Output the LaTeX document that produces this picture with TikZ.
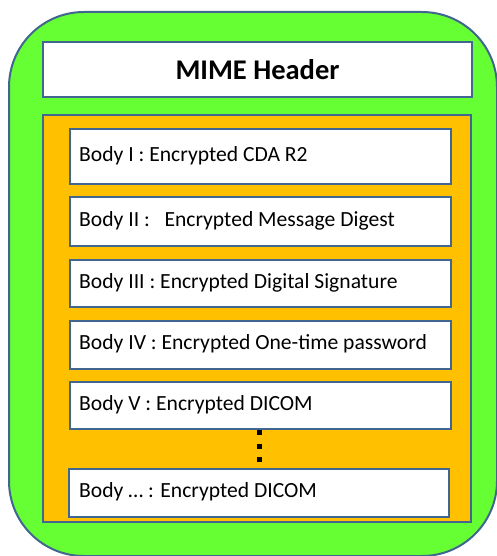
\documentclass[tikz,border=0pt]{standalone}
\usepackage{fontspec}
\setmainfont{Carlito}
\definecolor{lgreen}{HTML}{66FF33}
\definecolor{gold}{HTML}{FFC000}
\definecolor{edge}{HTML}{41668F}
\begin{document}
\begin{tikzpicture}[x=1pt,y=-1pt,
  outerbox/.style={draw=edge,line width=2pt,fill=lgreen,rounded corners=75pt},
  panel/.style={draw=edge,line width=2pt,fill=gold},
  bodybox/.style={draw=edge,line width=2pt,fill=white,inner sep=0pt},
  lbl/.style={anchor=west,font=\fontsize{21.6}{24}\selectfont,inner sep=0pt},
  dots/.style={line width=5pt,dash pattern=on 5pt off 8.5pt}]
\useasboundingbox (0,0) rectangle (496,556);
\draw[outerbox] (9,12) rectangle (497,556);
\node[bodybox,minimum width=429pt,minimum height=55pt,anchor=north west] (mime) at (42,41) {};
\node[font=\fontsize{28.5}{32}\selectfont\bfseries] (mimetxt) at (mime.center) {MIME Header};
\draw[panel] (43,115) rectangle (471,522);
\node[bodybox,minimum width=381pt,minimum height=55pt,anchor=north west] (b1) at (69,128) {};
\node[bodybox,minimum width=381pt,minimum height=49pt,anchor=north west] (b2) at (69,196) {};
\node[bodybox,minimum width=381pt,minimum height=47pt,anchor=north west] (b3) at (69,259) {};
\node[bodybox,minimum width=381pt,minimum height=48pt,anchor=north west] (b4) at (69,320) {};
\node[bodybox,minimum width=381pt,minimum height=47pt,anchor=north west] (b5) at (69,381) {};
\node[bodybox,minimum width=380pt,minimum height=48pt,anchor=north west] (bn) at (68,468) {};
\node[lbl] (t1) at (79,156) {Body I : Encrypted CDA R2};
\node[lbl] (t2) at (79,221) {Body II :\ \ \ Encrypted Message Digest};
\node[lbl] (t3) at (79,283) {Body III : Encrypted Digital Signature};
\node[lbl] (t4) at (79,344) {Body IV : Encrypted One-time password};
\node[lbl] (t5) at (79,405) {Body V : Encrypted DICOM};
\node[lbl] (tn) at (79,492) {Body … : Encrypted DICOM};
\draw[dots] (b5.south -| 259,0) -- (bn.north -| 259,0);
\end{tikzpicture}
\end{document}
